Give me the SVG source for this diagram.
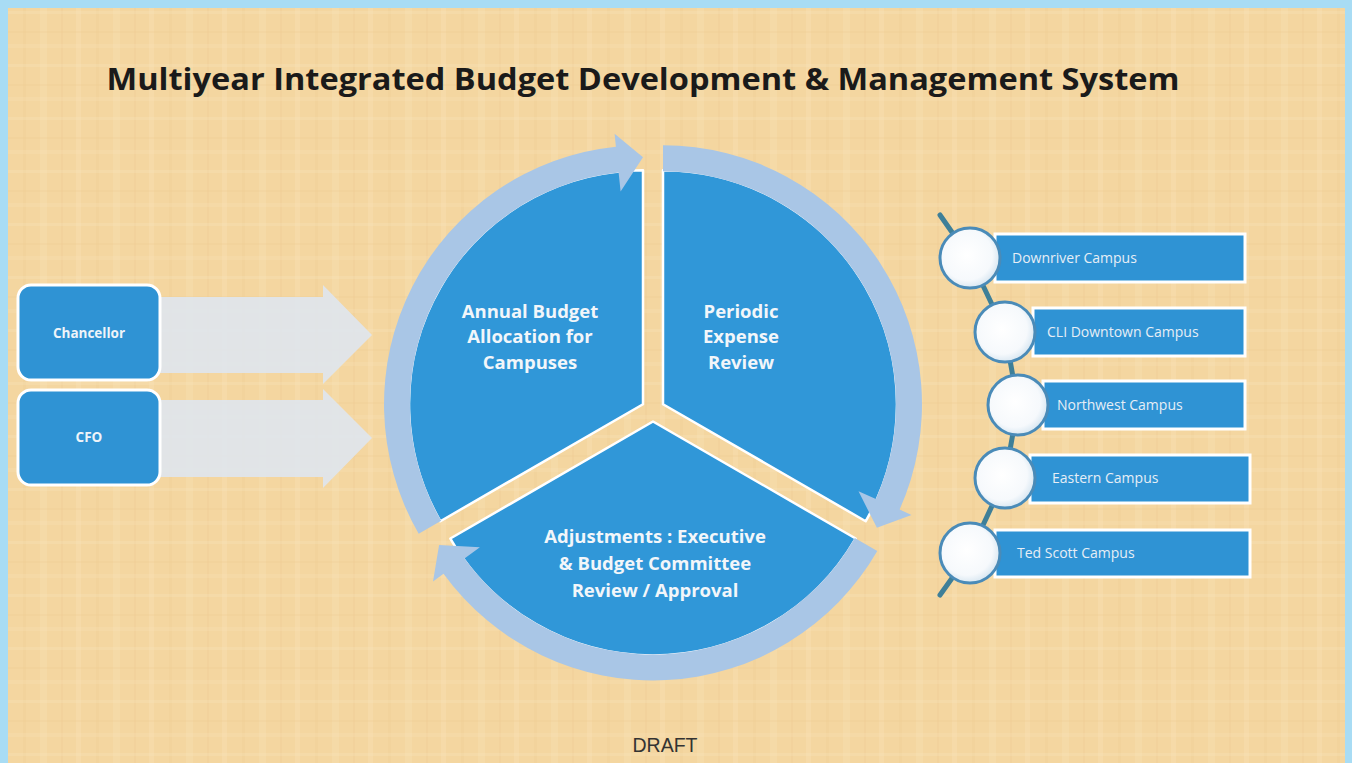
<svg xmlns="http://www.w3.org/2000/svg" width="1352" height="763" viewBox="0 0 1352 763">
<defs>
<pattern id="weave" x="0" y="0" width="73" height="53" patternUnits="userSpaceOnUse">
<rect width="73" height="53" fill="#f4d6a0"/>
<rect x="3" y="0" width="5" height="53" fill="#f8e3b8" opacity="0.35"/>
<rect x="23" y="0" width="3" height="53" fill="#ebc88f" opacity="0.22"/>
<rect x="40" y="0" width="7" height="53" fill="#f8e3b8" opacity="0.28"/>
<rect x="61" y="0" width="2" height="53" fill="#ebc88f" opacity="0.25"/>
<rect x="0" y="11" width="73" height="3" fill="#f9e6c0" opacity="0.25"/>
<rect x="0" y="31" width="73" height="2" fill="#eac68c" opacity="0.2"/>
<rect x="0" y="44" width="73" height="4" fill="#f9e6c0" opacity="0.2"/>
</pattern>
<radialGradient id="bead" cx="0.45" cy="0.45" r="0.6">
<stop offset="0" stop-color="#ffffff"/>
<stop offset="0.7" stop-color="#f6f9fc"/>
<stop offset="1" stop-color="#cfe1ee"/>
</radialGradient>
<style>
.sector{fill:#3097d8;stroke:#ffffff;stroke-width:2.5;stroke-linejoin:round}
.ring{fill:#a9c6e6}
.big{font-family:"Open Sans","Noto Sans",sans-serif;font-weight:bold;font-size:18.5px;fill:#f2f6fa;text-anchor:middle}
.box{fill:#2f93d4;stroke:#ffffff;stroke-width:3}
.boxlabel{font-family:"Open Sans","Noto Sans",sans-serif;font-weight:bold;font-size:13.5px;fill:#eef4f9;text-anchor:middle}
.flow{fill:#dfe6ee;opacity:0.9}
.camp{fill:#2f93d4;stroke:#ffffff;stroke-width:3}
.camptext{font-family:"Open Sans","Noto Sans",sans-serif;font-size:14px;fill:#e6eef6}
.beadc{fill:url(#bead);stroke:#4a8bb8;stroke-width:3}
</style>
</defs>
<rect x="0" y="0" width="1352" height="763" fill="#a8dcf4"/>
<rect x="8" y="8" width="1337" height="760" fill="url(#weave)"/>
<text x="643" y="90" font-family="'Open Sans','Noto Sans',sans-serif" font-weight="bold" font-size="31" fill="#1a1a1a" text-anchor="middle" textLength="1073" lengthAdjust="spacingAndGlyphs">Multiyear Integrated Budget Development &amp; Management System</text>

<g id="connectors">
<path class="flow" d="M160 297 L323 297 L323 285 L372 335 L323 384 L323 373 L160 373 Z"/>
<path class="flow" d="M160 400 L323 400 L323 389 L372 438 L323 488 L323 477 L160 477 Z"/>
<polyline points="940,215 970,258 1005,332 1018,405 1005,478 970,553 940,595" fill="none" stroke="#3e7f98" stroke-width="5" stroke-linejoin="round" stroke-linecap="round"/>
</g>

<g id="node-annual">
<path class="sector" d="M643 404.25 L440.35 521.25 A234 234 0 0 1 643 170.25 Z"/>
</g>
<g id="node-periodic">
<path class="sector" d="M663 404.25 L663 170.25 A234 234 0 0 1 865.65 521.25 Z"/>
</g>
<g id="node-adjustments">
<path class="sector" d="M653 421.5 L855.65 538.5 A234 234 0 0 1 450.35 538.5 Z"/>
</g>

<g id="cycle-arrows">
<path class="ring" d="M418.7 533.75 A259 259 0 0 1 615.9 146.7 L614.6 133.7 L643 157.25 L620.6 191.4 L618.6 172.5 A233 233 0 0 0 441.2 520.75 Z"/>
<path class="ring" d="M663 145.25 A259 259 0 0 1 899.6 509.6 L911.5 514.9 L876.9 527.75 L858.5 491.3 L875.9 499.0 A233 233 0 0 0 663 171.25 Z"/>
<path class="ring" d="M877.3 551 A259 259 0 0 1 443.5 573.7 L433.0 581.4 L439.1 545 L479.9 547.3 L464.5 558.45 A233 233 0 0 0 854.8 538 Z"/>
</g>

<g id="labels-cycle">
<text class="big" x="530" y="318">Annual Budget</text>
<text class="big" x="530" y="343">Allocation for</text>
<text class="big" x="530" y="369">Campuses</text>
<text class="big" x="741" y="318">Periodic</text>
<text class="big" x="741" y="343">Expense</text>
<text class="big" x="741" y="369">Review</text>
<text class="big" x="655" y="543">Adjustments : Executive</text>
<text class="big" x="655" y="570">&amp; Budget Committee</text>
<text class="big" x="655" y="597">Review / Approval</text>
</g>

<g id="node-chancellor">
<rect class="box" x="18" y="285" width="142" height="95" rx="13"/>
<text class="boxlabel" x="89" y="338">Chancellor</text>
</g>
<g id="node-cfo">
<rect class="box" x="18" y="390" width="142" height="95" rx="13"/>
<text class="boxlabel" x="89" y="442">CFO</text>
</g>

<g id="node-downriver">
<rect class="camp" x="995" y="234" width="250" height="48"/>
<circle class="beadc" cx="970" cy="258" r="30"/>
<text class="camptext" x="1012" y="263">Downriver Campus</text>
</g>
<g id="node-cli">
<rect class="camp" x="1033" y="308" width="212" height="48"/>
<circle class="beadc" cx="1005" cy="332" r="30"/>
<text class="camptext" x="1047" y="337">CLI Downtown Campus</text>
</g>
<g id="node-northwest">
<rect class="camp" x="1043" y="381" width="202" height="48"/>
<circle class="beadc" cx="1018" cy="405" r="30"/>
<text class="camptext" x="1057" y="410">Northwest Campus</text>
</g>
<g id="node-eastern">
<rect class="camp" x="1030" y="455" width="220" height="48"/>
<circle class="beadc" cx="1005" cy="478" r="30"/>
<text class="camptext" x="1052" y="483">Eastern Campus</text>
</g>
<g id="node-tedscott">
<rect class="camp" x="995" y="530" width="255" height="47"/>
<circle class="beadc" cx="970" cy="553" r="30"/>
<text class="camptext" x="1017" y="558">Ted Scott Campus</text>
</g>

<text x="665" y="752" font-family="'Liberation Sans',Arial,sans-serif" font-size="19.5" fill="#333333" text-anchor="middle">DRAFT</text>
</svg>
